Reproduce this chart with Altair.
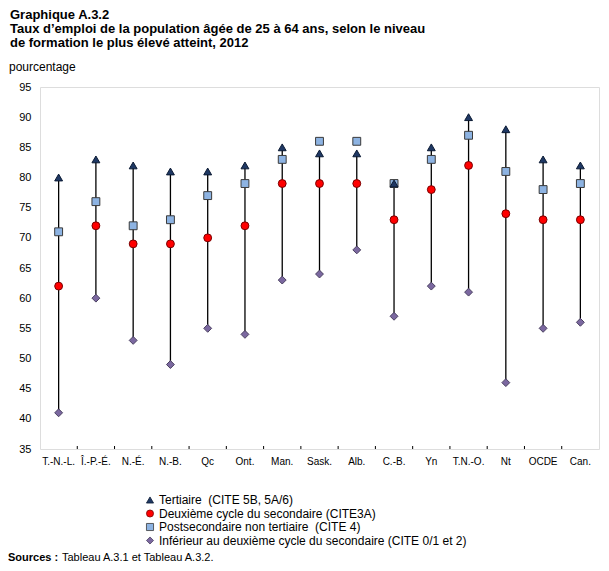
import altair as alt
import pandas as pd

categories = ["T.-N.-L.", "Î.-P.-É.", "N.-É.", "N.-B.", "Qc", "Ont.", "Man.", "Sask.",
              "Alb.", "C.-B.", "Yn", "T.N.-O.", "Nt", "OCDE", "Can."]
tertiaire = [80, 83, 82, 81, 81, 82, 85, 84, 84, 79, 85, 90, 88, 83, 82]
deuxieme = [62, 72, 69, 69, 70, 72, 79, 79, 79, 73, 78, 82, 74, 73, 73]
postsec = [71, 76, 72, 73, 77, 79, 83, 86, 86, 79, 83, 87, 81, 78, 79]
inferieur = [41, 60, 53, 49, 55, 54, 63, 64, 68, 57, 62, 61, 46, 55, 56]

series_names = [
    "Tertiaire\u00a0 (CITE 5B, 5A/6)",
    "Deuxième cycle du secondaire (CITE3A)",
    "Postsecondaire non tertiaire\u00a0 (CITE 4)",
    "\u00a0\u00a0\u00a0Inférieur au deuxième cycle du secondaire (CITE 0/1 et 2)",
]
y_ticks = [35, 40, 45, 50, 55, 60, 65, 70, 75, 80, 85, 90, 95]

title_lines = [
    "Graphique A.3.2",
    "Taux d\u2019emploi de la population âgée de 25 à 64 ans, selon le niveau",
    "de formation le plus élevé atteint, 2012",
]
y_unit = "pourcentage"
source_bold = "Sources :"
source_text = "Tableau A.3.1 et Tableau A.3.2."

shapes = ["triangle-up", "circle", "square", "diamond"]
fills = ["#1F3864", "#FF0000", "#8DB3E2", "#7B68A0"]
strokes = ["#0B1A33", "#7A0000", "#3A3A3A", "#4A4060"]

W, H = 559, 362
FONT = "Liberation Sans"

wide = pd.DataFrame({"cat": categories, "tert": tertiaire, "sec": deuxieme,
                     "post": postsec, "low": inferieur})

# draw order: diamond, square, circle, triangle
rows = []
for name, vals in [(series_names[3], inferieur), (series_names[2], postsec),
                   (series_names[1], deuxieme), (series_names[0], tertiaire)]:
    for c, v in zip(categories, vals):
        rows.append({"cat": c, "serie": name, "valeur": v})
long = pd.DataFrame(rows)

xscale = alt.Scale(domain=categories, paddingInner=0, paddingOuter=0)
yscale = alt.Scale(domain=[35, 95], nice=False, zero=False)
xaxis = alt.Axis(title=None, labelAngle=0, ticks=False, domain=False, labelPadding=7,
                 labelFontSize=10, labelFont=FONT, labelColor="black",
                 labelOverlap=False, grid=False)
yaxis = alt.Axis(title=None, values=y_ticks, ticks=False, domain=False, grid=False,
                 labelPadding=9, labelFontSize=11, labelFont=FONT, labelColor="black",
                 labelOverlap=False)

rules = alt.Chart(wide).mark_rule(color="black", strokeWidth=1.3).encode(
    x=alt.X("cat:N", scale=xscale, axis=xaxis, sort=categories),
    y=alt.Y("low:Q", scale=yscale, axis=yaxis),
    y2="tert:Q",
)

legend = alt.Legend(title=None, orient="none", legendX=104, legendY=407,
                    labelFont=FONT, labelFontSize=12, labelColor="black",
                    symbolSize=50, rowPadding=1.5, labelOffset=3, padding=0,
                    symbolStrokeWidth=0.8, labelLimit=500)

points = alt.Chart(long).mark_point(filled=True, size=62, opacity=1, strokeWidth=1).encode(
    x=alt.X("cat:N", scale=xscale, axis=xaxis, sort=categories),
    y=alt.Y("valeur:Q", scale=yscale, axis=yaxis),
    shape=alt.Shape("serie:N", scale=alt.Scale(domain=series_names, range=shapes), legend=legend),
    color=alt.Color("serie:N", scale=alt.Scale(domain=series_names, range=fills), legend=legend),
    stroke=alt.Stroke("serie:N", scale=alt.Scale(domain=series_names, range=strokes), legend=None),
)

tick_df = pd.DataFrame({"cat": categories[1:]})
inner_ticks = alt.Chart(tick_df).mark_rule(color="black", strokeWidth=1).encode(
    x=alt.X("cat:N", scale=xscale, bandPosition=0, axis=xaxis, sort=categories),
    y=alt.value(H - 3),
    y2=alt.value(H),
)


def label(text, x, y, size, weight="normal"):
    return alt.Chart(pd.DataFrame({"t": [text]})).mark_text(
        align="left", baseline="alphabetic", font=FONT, fontSize=size,
        fontWeight=weight, color="black"
    ).encode(text="t:N", x=alt.value(x), y=alt.value(y))


texts = [
    label(title_lines[0], -30, -68, 13, "bold"),
    label(title_lines[1], -30, -54, 13, "bold"),
    label(title_lines[2], -30, -40, 13, "bold"),
    label(y_unit, -31, -16, 12),
    label(source_bold, -32, 474, 11, "bold"),
    label(source_text, 22, 474, 11),
]

chart = alt.layer(rules, inner_ticks, points, *texts).properties(
    width=W, height=H,
    autosize=alt.AutoSizeParams(type="none"),
    padding={"left": 32, "top": 79, "right": 2, "bottom": 122},
).configure_view(stroke="black", strokeWidth=1).configure(background="white")

chart.save("out.html", embed_options={"renderer": "svg", "actions": False})
